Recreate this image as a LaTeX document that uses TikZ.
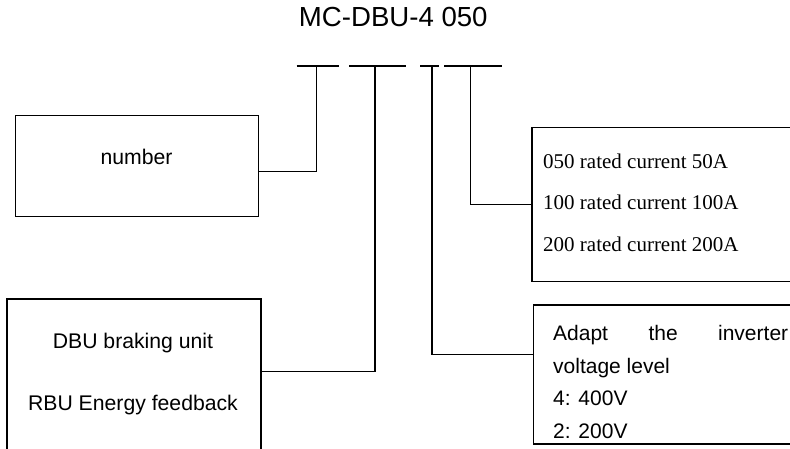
\documentclass[tikz,border=0pt]{standalone}
\usepackage{fontspec}
\setmainfont{Liberation Sans}
\newfontfamily\serifrm{Liberation Serif}
\begin{document}
\begin{tikzpicture}[x=1pt,y=-1pt,
  box/.style={draw, line width=1.5pt, anchor=north west, inner sep=0pt},
  conn/.style={line width=1.3pt},
  lbl/.style={anchor=base, inner sep=0pt, font=\fontsize{21.2}{25}\selectfont},
  lblw/.style={anchor=base west, inner sep=0pt, font=\fontsize{21}{25}\selectfont},
  serlbl/.style={anchor=base west, inner sep=0pt, font=\serifrm\fontsize{21}{25}\selectfont}]
\useasboundingbox (0,0) rectangle (790,449);
\clip (0,0) rectangle (790,449);
% title
\node[anchor=base, inner sep=0pt, font=\fontsize{27.6}{30}\selectfont] (title) at (393.3,26.7) {MC-DBU-4 050};
% underline segments
\coordinate (a1) at (296.7,66); \coordinate (a2) at (339.3,66);
\coordinate (b1) at (349.3,66); \coordinate (b2) at (406,66);
\coordinate (c1) at (420,66);   \coordinate (c2) at (439.3,66);
\coordinate (d1) at (444.3,66); \coordinate (d2) at (502.3,66);
\draw[conn] (a1) -- (a2);
\draw[conn] (b1) -- (b2);
\draw[conn] (c1) -- (c2);
\draw[conn] (d1) -- (d2);
\coordinate (ua) at (316.7,66);
\coordinate (ub) at (375,66);
\coordinate (uc) at (432,66);
\coordinate (ud) at (470.5,66);
% boxes
\node[box, minimum width=243pt, minimum height=101pt] (num) at (14.7,114.7) {};
\node[box, minimum width=254pt, minimum height=153pt] (dbu) at (6,298.3) {};
\node[box, minimum width=258.5pt, minimum height=154pt] (rated) at (531,126.7) {};
\node[box, minimum width=262pt, minimum height=139pt] (adapt) at (532.7,304.3) {};
% texts
\node[lbl] (tnum) at (136.5,164.3) {number};
\node[lbl] (tdbu) at (133,348.3) {DBU braking unit};
\node[lbl] (trbu) at (133,410) {RBU Energy feedback};
\node[serlbl] (r1) at (543,168.3) {050 rated current 50A};
\node[serlbl] (r2) at (543,210) {100 rated current 100A};
\node[serlbl] (r3) at (543,251.7) {200 rated current 200A};
\node[lblw] (v1) at (553,340.7) {\makebox[235pt][s]{Adapt\hfill the\hfill inverter}};
\node[lblw] (v2) at (553,373.3) {voltage level};
\node[lblw] (v3) at (553,405) {4: 400V};
\node[lblw] (v4) at (553,438.3) {2: 200V};
% connectors
\draw[conn] ([yshift=-5.8pt]num.east) -| (ua);
\draw[conn] ([yshift=4pt]dbu.east) -| (ub);
\draw[conn] (uc) |- ([yshift=19.8pt]adapt.west);
\draw[conn] (ud) |- (rated.west);
\end{tikzpicture}
\end{document}
